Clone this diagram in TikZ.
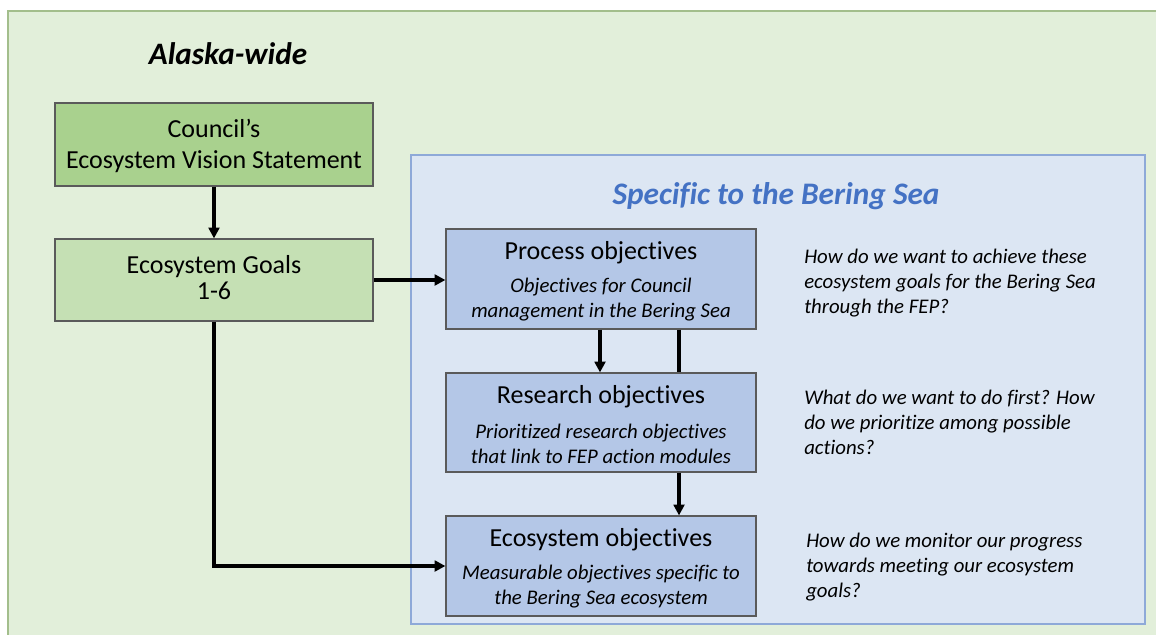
\documentclass[tikz,border=0pt]{standalone}
\usepackage{fontspec}
\setmainfont{Carlito}[Ligatures=NoCommon]
\usetikzlibrary{arrows.meta,calc}
\definecolor{outergreen}{HTML}{E2EFDA}
\definecolor{outerline}{HTML}{A3BE8C}
\definecolor{bluepanel}{HTML}{DCE6F3}
\definecolor{blueline}{HTML}{8EA9D8}
\definecolor{greendark}{HTML}{A9D18E}
\definecolor{greenlight}{HTML}{C5E0B4}
\definecolor{bluebox}{HTML}{B4C7E7}
\definecolor{boxline}{HTML}{5A5A5A}
\definecolor{titleblue}{HTML}{4472C4}
\tikzset{
  box/.style={draw=boxline, line width=0.9pt, inner sep=0pt, anchor=center},
  ttl/.style={font=\fontsize{19.5}{23.25}\selectfont, inner sep=0pt, align=center},
  sub/.style={font=\fontsize{15.6}{18.75}\selectfont\itshape, inner sep=0pt, align=center},
  qtxt/.style={font=\fontsize{15.6}{18.75}\selectfont\itshape, inner sep=0pt, align=left, anchor=north west},
  arr/.style={line width=2.5pt, -{Triangle[length=8pt,width=8pt]}},
  ln/.style={line width=2.5pt}
}
\begin{document}
\begin{tikzpicture}[x=0.75pt,y=-0.75pt]
\useasboundingbox (0,0) rectangle (1156,635);
\fill[white] (0,0) rectangle (1156,635);
% outer panel
\fill[outergreen] (8,11) rectangle (1160,640);
\draw[outerline, line width=0.9pt] (8,640) -- (8,11) -- (1160,11);
% blue panel
\draw[blueline, fill=bluepanel, line width=0.9pt] (411,155) rectangle (1145,624);
% titles
\node[font=\fontsize{23.4}{26}\selectfont\bfseries\itshape, inner sep=0pt] (alaska) at (228,54) {Alaska-wide};
\node[font=\fontsize{23.5}{26}\selectfont\bfseries\itshape, text=titleblue, inner sep=0pt] (bering) at (776,196) {Specific to the Bering Sea};
% green boxes
\node[box, fill=greendark, minimum width=238.5pt, minimum height=62.25pt] (council) at (214,144.5) {};
\node[ttl] (councilt) at (214,146) {Council’s\\Ecosystem Vision Statement};
\node[box, fill=greenlight, minimum width=238.5pt, minimum height=61.5pt] (goals) at (214,280) {};
\node[ttl, font=\fontsize{19.5}{19.5}\selectfont] (goalst) at (214,278) {Ecosystem Goals\\1-6};
% blue boxes
\node[box, fill=bluebox, minimum width=232.5pt, minimum height=75pt] (proc) at (601,279) {};
\node[ttl] (proct) at (601,253) {Process objectives};
\node[sub] (procs) at (601,300) {Objectives for Council\\management in the Bering Sea};
\node[box, fill=bluebox, minimum width=232.5pt, minimum height=74.25pt] (res) at (601,422.5) {};
\node[ttl] (rest) at (601,397) {Research objectives};
\node[sub] (ress) at (601,444) {Prioritized research objectives\\that link to FEP action modules};
\node[box, fill=bluebox, minimum width=232.5pt, minimum height=75pt] (eco) at (601,566) {};
\node[ttl] (ecot) at (601,540) {Ecosystem objectives};
\node[sub] (ecos) at (601,587) {Measurable objectives specific to\\the Bering Sea ecosystem};
% questions
\node[qtxt] (q1) at (804,249) {How do we want to achieve these\\ecosystem goals for the Bering Sea\\through the FEP?};
\node[qtxt] (q2) at (804,390) {What do we want to do first? How\\do we prioritize among possible\\actions?};
\node[qtxt] (q3) at (806,533) {How do we monitor our progress\\towards meeting our ecosystem\\goals?};
% connectors
\coordinate (cA) at (600,0);
\coordinate (cB) at (679,0);
\draw[arr] (council.south) -- (goals.north);
\draw[arr] (goals.east) -- (goals.east -| proc.west);
\draw[arr] (proc.south -| cA) -- (res.north -| cA);
\draw[ln] (proc.south -| cB) -- (res.north -| cB);
\draw[arr] (res.south -| cB) -- (eco.north -| cB);
\draw[arr] (goals.south) |- (eco.west);
\end{tikzpicture}
\end{document}
